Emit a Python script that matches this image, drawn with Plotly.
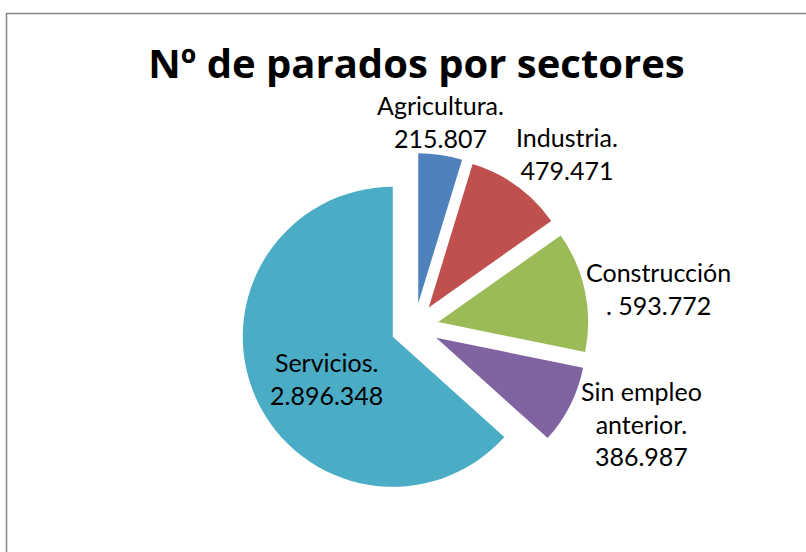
import plotly.graph_objects as go

# Datos: nº de parados por sectores
sectores = ["Agricultura", "Industria", "Construcción", "Sin empleo anterior", "Servicios"]
parados = [215807, 479471, 593772, 386987, 2896348]
colores = ["#4F81BD", "#C0504D", "#9BBB59", "#8064A2", "#4BACC6"]

# cómo Excel partió cada etiqueta
plantillas = ["{}.<br>{}", "{}.<br>{}", "{}<br>. {}", "{}.<br>{}", "{}.<br>{}"]
nombres_cortados = ["Agricultura", "Industria", "Construcción", "Sin empleo<br>anterior", "Servicios"]
# centro de cada etiqueta en píxeles (x, y desde arriba)
pos_etiquetas = [(440, 122), (567, 153), (658, 288), (641, 423), (326, 378)]

W, H = 806, 552
FONT = "Lato"


def miles(v):
    return f"{v:,}".replace(",", ".")


cx, cy, half = 414.7, 327, 174  # centro de la tarta y medio lado del dominio (px)

fig = go.Figure()
fig.add_trace(go.Pie(
    labels=sectores, values=parados,
    marker=dict(colors=colores, line=dict(width=0)),
    sort=False, direction="clockwise", rotation=0,
    pull=[0.16] * len(parados),
    textinfo="none", hoverinfo="label+value",
    domain=dict(x=[(cx - half) / W, (cx + half) / W],
                y=[(H - cy - half) / H, (H - cy + half) / H]),
    showlegend=False,
))

for tpl, nom, v, (px, py) in zip(plantillas, nombres_cortados, parados, pos_etiquetas):
    fig.add_annotation(
        text=tpl.format(nom, miles(v)), xref="paper", yref="paper",
        x=px / W, y=1 - py / H, xanchor="center", yanchor="middle",
        showarrow=False, align="center",
        font=dict(family=FONT, size=25, color="#000000"),
    )

# marco del área del gráfico (recortado por la derecha y por abajo)
fig.add_shape(type="rect", xref="paper", yref="paper",
              x0=6.5 / W, x1=1.05, y0=-0.05, y1=1 - 13.5 / H,
              line=dict(color="#868686", width=1.5), fillcolor="rgba(0,0,0,0)")

fig.update_layout(
    width=W, height=H,
    margin=dict(l=0, r=0, t=0, b=0),
    paper_bgcolor="#FFFFFF", plot_bgcolor="#FFFFFF",
    title=dict(text="<b>Nº de parados por sectores</b>", x=416.5 / W, y=1 - 64 / H,
               xanchor="center", yanchor="middle",
               font=dict(family="Open Sans", size=40, color="#000000")),
)

# sin el margen de 8px del body y sin barra de herramientas
fig.write_html("out.html", config={"displayModeBar": False},
               post_script="document.body.style.margin='0px';")
